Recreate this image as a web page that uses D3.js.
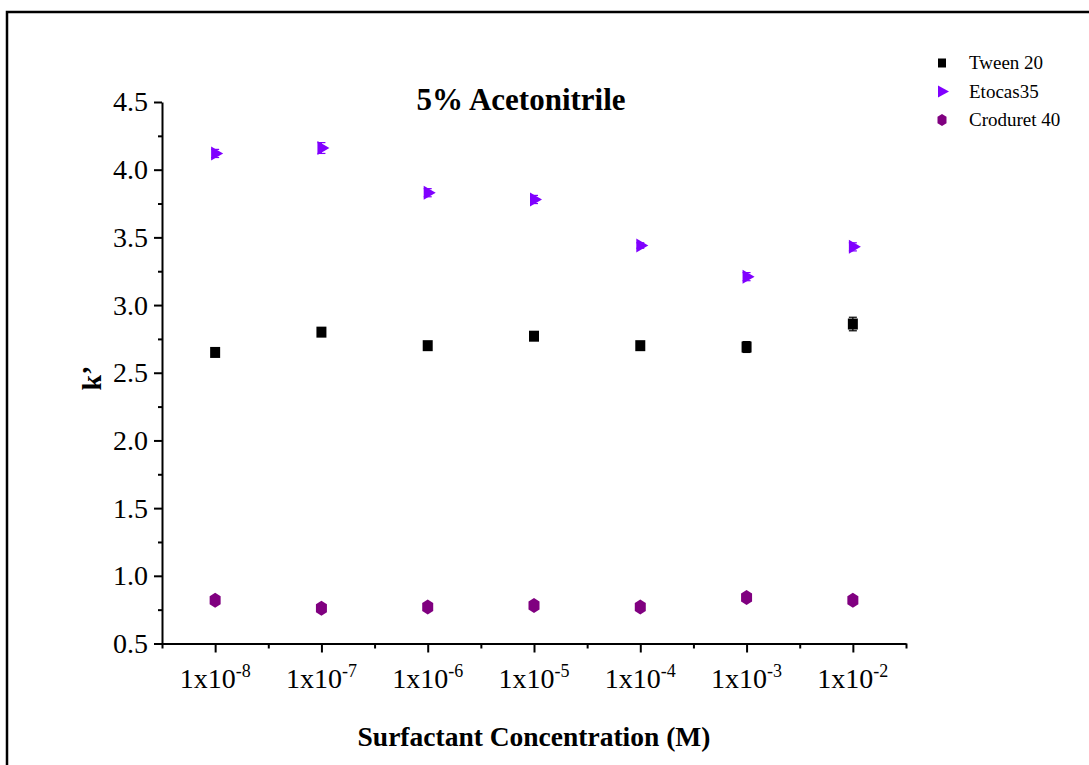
<!DOCTYPE html>
<html lang="en">
<head>
    <meta charset="UTF-8">
    <title>5% Acetonitrile</title>
    <script src="https://d3js.org/d3.v7.min.js"></script>
    <style>
        body { margin: 0; background: #fff; }
        text { font-family: "Liberation Serif", "Times New Roman", serif; }
    </style>
</head>
<body>
    <script>
        // data
        var categories = ["-8", "-7", "-6", "-5", "-4", "-3", "-2"]; // exponents of 1x10^n M
        var tween20 = [2.65, 2.80, 2.70, 2.77, 2.70, 2.69, 2.86];
        var tween20Err = [0.02, 0.02, 0.02, 0.02, 0.02, 0.04, 0.05];
        var etocas35 = [4.12, 4.16, 3.83, 3.78, 3.44, 3.21, 3.43];
        var etocas35Err = [0.03, 0.04, 0.03, 0.03, 0.02, 0.03, 0.03];
        var croduret40 = [0.82, 0.76, 0.77, 0.78, 0.77, 0.84, 0.82];
        var croduret40Err = [0.01, 0.01, 0.01, 0.01, 0.01, 0.01, 0.01];
        var yTicks = [0.5, 1.0, 1.5, 2.0, 2.5, 3.0, 3.5, 4.0, 4.5];
        var seriesNames = ["Tween 20", "Etocas35", "Croduret 40"];

        var w = 1089, h = 765;
        var plotLeft = 162, plotRight = 906, plotTop = 102, plotBottom = 643.5;

        var svg = d3.select("body").append("svg")
            .attr("width", w)
            .attr("height", h);

        // outer frame (runs off the right and bottom of the picture)
        svg.append("rect")
            .attr("x", 7).attr("y", 12)
            .attr("width", 1200).attr("height", 900)
            .attr("fill", "none")
            .attr("stroke", "#000")
            .attr("stroke-width", 2.5);

        var x = d3.scaleLinear().domain([0.5, 7.5]).range([plotLeft, plotRight]);
        var y = d3.scaleLinear().domain([0.5, 4.5]).range([plotBottom, plotTop]);

        // y axis: major ticks + minor ticks
        var yAxis = svg.append("g")
            .attr("transform", "translate(" + plotLeft + ",0)")
            .call(d3.axisLeft(y).tickValues(yTicks).tickFormat(d3.format(".1f"))
                .tickSizeInner(8).tickSizeOuter(0).tickPadding(6));
        svg.append("g")
            .attr("transform", "translate(" + plotLeft + ",0)")
            .call(d3.axisLeft(y).tickValues(d3.range(0.75, 4.5, 0.5)).tickFormat("")
                .tickSizeInner(4).tickSizeOuter(0))
            .select(".domain").remove();

        // x axis
        svg.append("g")
            .attr("transform", "translate(0," + plotBottom + ")")
            .call(d3.axisBottom(x).tickValues(d3.range(1, 8)).tickFormat("")
                .tickSizeInner(9).tickSizeOuter(0));
        svg.append("g")
            .attr("transform", "translate(0," + plotBottom + ")")
            .call(d3.axisBottom(x).tickValues(d3.range(0.5, 8, 1)).tickFormat("")
                .tickSizeInner(5).tickSizeOuter(0))
            .select(".domain").remove();

        svg.selectAll(".domain, .tick line")
            .attr("stroke", "#000")
            .attr("stroke-width", 2);

        yAxis.selectAll(".tick text")
            .attr("font-size", 28)
            .attr("fill", "#000")
            .style("font-family", "'Liberation Serif', serif");

        // x tick labels with superscripts
        var xl = svg.append("g").selectAll("text")
            .data(categories)
            .join("text")
            .attr("x", (d, i) => x(i + 1))
            .attr("y", 688)
            .attr("text-anchor", "middle")
            .attr("font-size", 28);
        xl.append("tspan").text("1x10");
        xl.append("tspan")
            .attr("dy", -11)
            .attr("font-size", 18)
            .text(d => d);

        // error bars + markers
        function errorBars(vals, errs, color) {
            var g = svg.append("g").attr("stroke", color).attr("stroke-width", 1.2);
            vals.forEach(function(v, i) {
                var cx = x(i + 1);
                g.append("line").attr("x1", cx).attr("x2", cx)
                    .attr("y1", y(v - errs[i])).attr("y2", y(v + errs[i]));
                [v - errs[i], v + errs[i]].forEach(function(e) {
                    g.append("line").attr("x1", cx - 4).attr("x2", cx + 4)
                        .attr("y1", y(e)).attr("y2", y(e));
                });
            });
        }
        errorBars(tween20, tween20Err, "#000");
        errorBars(etocas35, etocas35Err, "#8000ff");
        errorBars(croduret40, croduret40Err, "#800080");

        var squarePath = "M-5,-5.5H5V5.5H-5Z";
        var trianglePath = "M-4,-7L8,0L-4,7Z";
        var hexPath = "M0,-7.5L5.5,-4V4L0,7.5L-5.5,4V-4Z";

        svg.append("g").selectAll("path")
            .data(tween20).join("path")
            .attr("d", squarePath)
            .attr("transform", (d, i) => "translate(" + x(i + 1) + "," + y(d) + ")")
            .attr("fill", "#000");
        svg.append("g").selectAll("path")
            .data(etocas35).join("path")
            .attr("d", trianglePath)
            .attr("transform", (d, i) => "translate(" + x(i + 1) + "," + y(d) + ")")
            .attr("fill", "#8000ff");
        svg.append("g").selectAll("path")
            .data(croduret40).join("path")
            .attr("d", hexPath)
            .attr("transform", (d, i) => "translate(" + x(i + 1) + "," + y(d) + ")")
            .attr("fill", "#800080");

        // legend
        var legendShapes = [
            { d: "M-4,-4.5H4V4.5H-4Z", fill: "#000" },
            { d: "M-4,-6L7,0L-4,6Z", fill: "#8000ff" },
            { d: "M0,-6L4.5,-3.2V3.2L0,6L-4.5,3.2V-3.2Z", fill: "#800080" }
        ];
        var legend = svg.append("g").selectAll("g")
            .data(seriesNames).join("g")
            .attr("transform", (d, i) => "translate(942," + (63 + i * 28.5) + ")");
        legend.append("path")
            .attr("d", (d, i) => legendShapes[i].d)
            .attr("fill", (d, i) => legendShapes[i].fill);
        legend.append("text")
            .attr("x", 27)
            .attr("y", 6)
            .attr("font-size", 19)
            .text(d => d);

        // title and axis titles
        svg.append("text")
            .attr("x", 521).attr("y", 110)
            .attr("text-anchor", "middle")
            .attr("font-size", 31)
            .attr("font-weight", "bold")
            .text("5% Acetonitrile");

        svg.append("text")
            .attr("transform", "translate(101,378) rotate(-90)")
            .attr("text-anchor", "middle")
            .attr("font-size", 28)
            .attr("font-weight", "bold")
            .text("k’");

        svg.append("text")
            .attr("x", 534).attr("y", 746)
            .attr("text-anchor", "middle")
            .attr("font-size", 27.5)
            .attr("font-weight", "bold")
            .text("Surfactant Concentration (M)");
    </script>
</body>
</html>
